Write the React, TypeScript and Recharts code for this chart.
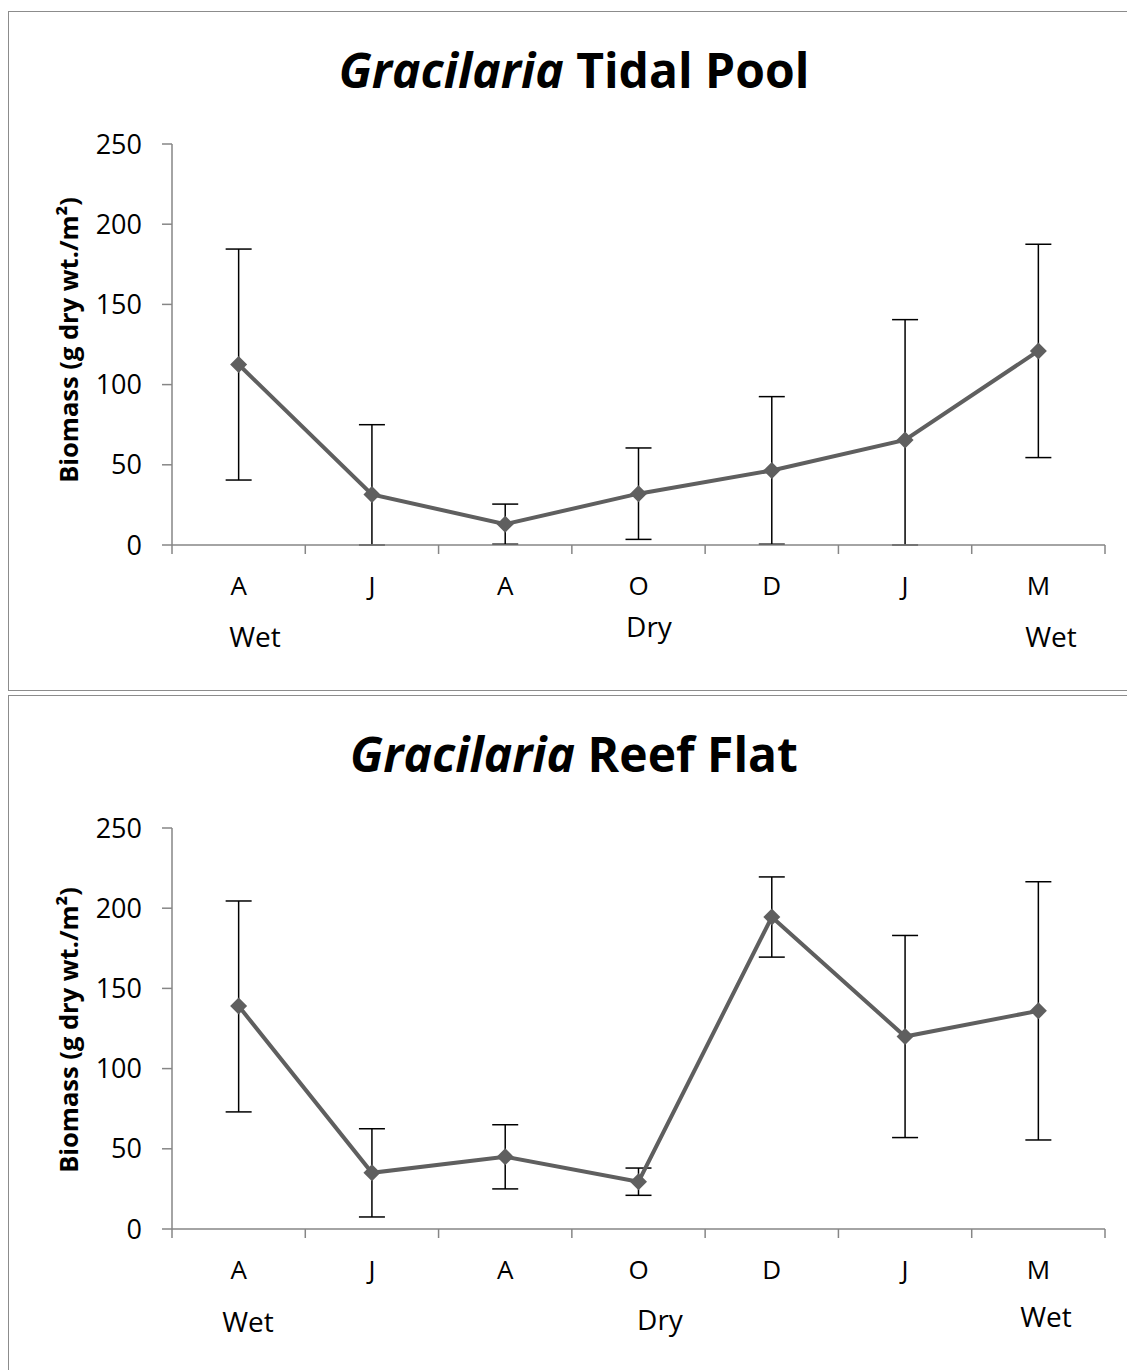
import React from "react";
import { LineChart, Line, XAxis, YAxis, ErrorBar } from "recharts";

const months = ["A", "J", "A", "O", "D", "J", "M"];
const yTicks = [0, 50, 100, 150, 200, 250];
const boundaryTicks = [0, 1, 2, 3, 4, 5, 6, 7];

const tidalMean = [112.5, 31.5, 13, 32, 46.5, 65.5, 121];
const tidalErrLow = [72, 31.5, 12.5, 28.5, 46, 65.5, 66.5];
const tidalErrHigh = [72, 43.5, 12.5, 28.5, 46, 75, 66.5];

const reefMean = [139, 35, 45, 29.5, 194.5, 120, 136];
const reefErrLow = [66, 27.5, 20, 8.5, 25, 63, 80.5];
const reefErrHigh = [65.5, 27.5, 20, 8.5, 25, 63, 80.5];

const FONT = "'Open Sans', sans-serif";
const GREY = "#5f5f5f";
const AXIS = "#868686";

function build(mean: number[], low: number[], high: number[]) {
  return months.map((m, i) => ({ x: i + 0.5, month: m, mean: mean[i], err: [low[i], high[i]] }));
}

const Diamond = (p: any) => {
  const { cx, cy } = p;
  if (cx == null || cy == null) return null;
  const r = 8.5;
  return <path d={`M${cx},${cy - r}L${cx + r},${cy}L${cx},${cy + r}L${cx - r},${cy}Z`} fill={GREY} />;
};

function TextAt({ cx, baseline, size, bold, children }: any) {
  return (
    <div
      style={{
        position: "absolute",
        left: cx - 300,
        width: 600,
        top: baseline - 0.888 * size,
        fontSize: size,
        lineHeight: `${size}px`,
        textAlign: "center",
        fontWeight: bold ? 700 : 400,
        whiteSpace: "nowrap",
      }}
    >
      {children}
    </div>
  );
}

function Panel({ top, title, data, seasons }: any) {
  return (
    <>
      <div
        style={{
          position: "absolute",
          left: 8,
          top: top + 11,
          width: 1130,
          height: 680,
          border: "1px solid #8c8c8c",
          boxSizing: "border-box",
        }}
      />
      <div style={{ position: "absolute", left: 0, top }}>
        <LineChart width={1127} height={690} data={data} margin={{ top: 144, right: 22, bottom: 143, left: 72 }}>
          <YAxis
            type="number"
            domain={[0, 250]}
            ticks={yTicks}
            interval={0}
            width={100}
            allowDataOverflow
            tickSize={10}
            tickMargin={20}
            axisLine={{ stroke: AXIS, strokeWidth: 1.5 }}
            tickLine={{ stroke: AXIS, strokeWidth: 1.5 }}
            tick={{ fill: "#000", fontSize: 27 }}
          />
          <XAxis
            xAxisId="grid"
            type="number"
            dataKey="x"
            domain={[0, 7]}
            ticks={boundaryTicks}
            interval={0}
            height={1}
            tickSize={9}
            tickFormatter={() => ""}
            axisLine={{ stroke: AXIS, strokeWidth: 1.5 }}
            tickLine={{ stroke: AXIS, strokeWidth: 1.5 }}
          />
          <XAxis
            xAxisId="lab"
            type="number"
            dataKey="x"
            domain={[0, 7]}
            ticks={data.map((d: any) => d.x)}
            interval={0}
            height={1}
            tickSize={0}
            tickMargin={31}
            axisLine={false}
            tickLine={false}
            tickFormatter={(v: number) => months[Math.floor(v)]}
            tick={{ fill: "#000", fontSize: 26 }}
          />
          <Line
            xAxisId="lab"
            dataKey="mean"
            stroke={GREY}
            strokeWidth={4}
            dot={<Diamond />}
            activeDot={false}
            isAnimationActive={false}
          >
            <ErrorBar dataKey="err" direction="y" width={13} stroke="#000" strokeWidth={1.5} />
          </Line>
        </LineChart>
      </div>
      <TextAt cx={574} baseline={top + 89} size={48} bold>
        <i>Gracilaria</i> {title}
      </TextAt>
      {seasons.map((s: any, i: number) => (
        <TextAt key={i} cx={s.cx} baseline={top + s.base} size={28}>
          {s.text}
        </TextAt>
      ))}
      <div
        style={{
          position: "absolute",
          left: 68,
          top: top + s_labelY(top),
          transform: "translate(-50%, -50%) rotate(-90deg)",
          fontSize: 25.5,
          fontWeight: 700,
          whiteSpace: "nowrap",
          lineHeight: "26px",
        }}
      >
        Biomass (g dry wt./m²)
      </div>
    </>
  );
}

function s_labelY(top: number) {
  return top === 0 ? 340 : 346;
}

export default function App() {
  return (
    <div
      style={{
        position: "absolute",
        left: 0,
        top: 0,
        width: 1127,
        height: 1370,
        overflow: "hidden",
        background: "#fff",
        fontFamily: FONT,
        color: "#000",
      }}
    >
      <Panel
        top={0}
        title="Tidal Pool"
        data={build(tidalMean, tidalErrLow, tidalErrHigh)}
        seasons={[
          { text: "Wet", cx: 255, base: 647 },
          { text: "Dry", cx: 649, base: 637 },
          { text: "Wet", cx: 1051, base: 647 },
        ]}
      />
      <Panel
        top={684}
        title="Reef Flat"
        data={build(reefMean, reefErrLow, reefErrHigh)}
        seasons={[
          { text: "Wet", cx: 248, base: 648 },
          { text: "Dry", cx: 660, base: 646 },
          { text: "Wet", cx: 1046, base: 643 },
        ]}
      />
    </div>
  );
}
